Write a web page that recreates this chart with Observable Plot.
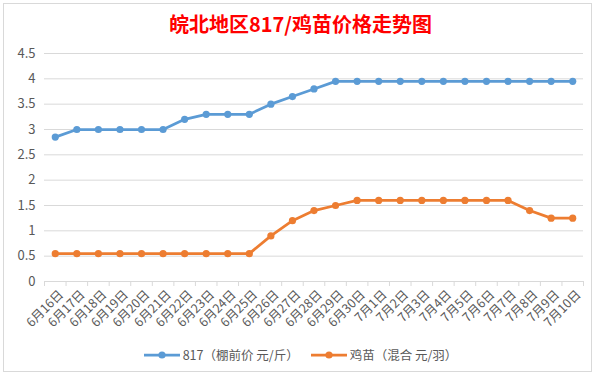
<!DOCTYPE html>
<html>
<head>
<meta charset="utf-8">
<script src="https://cdn.jsdelivr.net/npm/d3@7"></script>
<script src="https://cdn.jsdelivr.net/npm/@observablehq/plot@0.6"></script>
<style>
  html, body { margin: 0; padding: 0; background: #ffffff; }
  #page { position: relative; width: 601px; height: 377px; overflow: hidden; font-family: "Noto Sans CJK SC", "Noto Sans", sans-serif; }
  #box { position: absolute; left: 3px; top: 3px; width: 589px; height: 369px; border: 1px solid #d9d9d9; box-sizing: border-box; }
  #title { position: absolute; left: 0; top: 11px; width: 601px; text-align: center; font-size: 20px; font-weight: bold; color: #ff0000; line-height: 26px; }
  #plot { position: absolute; left: 0; top: 40px; }
  #legend { position: absolute; left: 0; top: 345px; width: 601px; text-align: center; font-size: 12.5px; color: #595959; line-height: 20px; }
  .item { display: inline-flex; align-items: center; margin: 0 6px; }
  .item svg { margin-right: 3px; }
</style>
</head>
<body>
<div id="page">
  <div id="box"></div>
  <div id="title"></div>
  <div id="plot"></div>
  <div id="legend"></div>
</div>
<script>
const titleText = "皖北地区817/鸡苗价格走势图";
const dates = ["6月16日","6月17日","6月18日","6月19日","6月20日","6月21日","6月22日","6月23日","6月24日","6月25日","6月26日","6月27日","6月28日","6月29日","6月30日","7月1日","7月2日","7月3日","7月4日","7月5日","7月6日","7月7日","7月8日","7月9日","7月10日"];
const price817 = [2.85,3.0,3.0,3.0,3.0,3.0,3.2,3.3,3.3,3.3,3.5,3.65,3.8,3.95,3.95,3.95,3.95,3.95,3.95,3.95,3.95,3.95,3.95,3.95,3.95];
const priceChick = [0.55,0.55,0.55,0.55,0.55,0.55,0.55,0.55,0.55,0.55,0.9,1.2,1.4,1.5,1.6,1.6,1.6,1.6,1.6,1.6,1.6,1.6,1.4,1.25,1.25];
const seriesNames = ["817（棚前价 元/斤）", "鸡苗（混合 元/羽）"];
const seriesColors = ["#5b9bd5", "#ed7d31"];
const yTicks = [0,0.5,1,1.5,2,2.5,3,3.5,4,4.5];

document.getElementById("title").textContent = titleText;

const rows = dates.map((d, i) => ({i, date: d, a: price817[i], b: priceChick[i]}));
const boundaries = d3.range(dates.length + 1).map(k => k - 0.5);

const chart = Plot.plot({
  width: 601,
  height: 300,
  marginLeft: 44,
  marginRight: 18,
  marginTop: 13,
  marginBottom: 59,
  style: {color: "#595959", fontFamily: "'Noto Sans CJK SC', 'Noto Sans', sans-serif", fontSize: "12px", background: "transparent"},
  x: {domain: [-0.5, dates.length - 0.5], axis: null, label: null},
  y: {domain: [0, 4.5], axis: null, label: null},
  marks: [
    Plot.gridY(yTicks, {stroke: "#d9d9d9", strokeOpacity: 1}),
    Plot.axisY(yTicks, {tickSize: 0, tickPadding: 9, tickFormat: d => String(d), fontSize: 13, fill: "#595959", label: null}),
    Plot.ruleY([0], {stroke: "#d9d9d9"}),
    Plot.axisX(boundaries, {tickSize: 5, tickFormat: () => "", stroke: "#d9d9d9", strokeOpacity: 1, label: null}),
    Plot.text(rows, {x: "i", y: () => 0, text: "date", rotate: -45, textAnchor: "end", dx: 6, dy: 11, fontSize: 12.5, fill: "#595959"}),
    Plot.line(rows, {x: "i", y: "a", stroke: seriesColors[0], strokeWidth: 2.75}),
    Plot.dot(rows, {x: "i", y: "a", r: 3.6, fill: seriesColors[0]}),
    Plot.line(rows, {x: "i", y: "b", stroke: seriesColors[1], strokeWidth: 2.75}),
    Plot.dot(rows, {x: "i", y: "b", r: 3.6, fill: seriesColors[1]})
  ]
});
document.getElementById("plot").appendChild(chart);

const legend = document.getElementById("legend");
seriesNames.forEach((name, k) => {
  const item = document.createElement("span");
  item.className = "item";
  item.innerHTML = `<svg width="36" height="10"><line x1="0" y1="5" x2="36" y2="5" stroke="${seriesColors[k]}" stroke-width="2.75"/><circle cx="18" cy="5" r="3.6" fill="${seriesColors[k]}"/></svg><span>${name}</span>`;
  legend.appendChild(item);
});
</script>
</body>
</html>
